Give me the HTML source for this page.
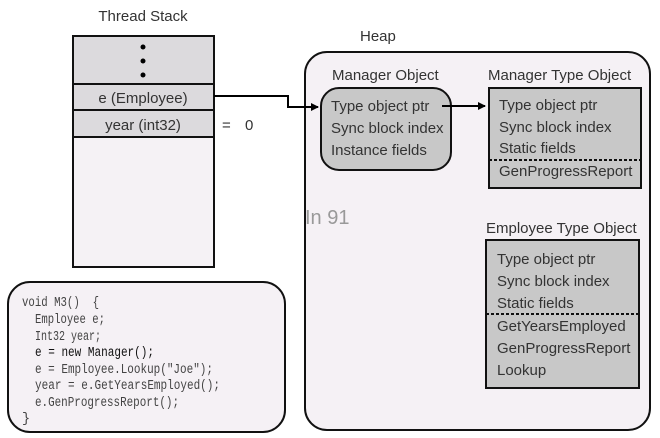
<!DOCTYPE html>
<html><head><meta charset="utf-8"><style>
html,body{margin:0;padding:0;background:#fff;width:660px;height:438px;overflow:hidden}
svg{display:block}
text{font-family:"Liberation Sans",sans-serif;fill:#333;font-size:15px}
.m{font-family:"Liberation Mono",monospace;font-size:13.5px;fill:#444}
</style></head><body>
<svg width="660" height="438" viewBox="0 0 660 438" xmlns="http://www.w3.org/2000/svg">
<defs><marker id="a" markerWidth="8" markerHeight="8" refX="7" refY="4" orient="auto" markerUnits="userSpaceOnUse"><path d="M0,0 L8,4 L0,8z" fill="#000"/></marker></defs>
<text x="143" y="21" text-anchor="middle">Thread Stack</text>
<rect x="73" y="36" width="141" height="231" fill="#f5f2f5" stroke="#111" stroke-width="2"/>
<rect x="74" y="37" width="139" height="47" fill="#dcdadd"/>
<rect x="74" y="85" width="139" height="52" fill="#dcdadd"/>
<line x1="73" y1="84" x2="214" y2="84" stroke="#111" stroke-width="2"/>
<line x1="73" y1="110" x2="214" y2="110" stroke="#111" stroke-width="2"/>
<line x1="73" y1="137" x2="214" y2="137" stroke="#111" stroke-width="2"/>
<circle cx="143" cy="47" r="2.5" fill="#000"/><circle cx="143" cy="61" r="2.5" fill="#000"/><circle cx="143" cy="75" r="2.5" fill="#000"/>
<text x="143" y="103" text-anchor="middle">e (Employee)</text>
<text x="143" y="130" text-anchor="middle">year (int32)</text>
<text x="222" y="130">=</text><text x="245" y="130">0</text>
<text x="360" y="41">Heap</text>
<rect x="305" y="52" width="345" height="378" rx="22" fill="#f5f1f5" stroke="#111" stroke-width="2"/>
<polyline points="214,96 288,96 288,107 318,107" fill="none" stroke="#000" stroke-width="2" marker-end="url(#a)"/>
<text x="332" y="80">Manager Object</text>
<rect x="321" y="88" width="130" height="82" rx="18" fill="#c8c8c8" stroke="#111" stroke-width="2"/>
<text x="331" y="111">Type object ptr</text>
<text x="331" y="133">Sync block index</text>
<text x="331" y="155">Instance fields</text>
<line x1="442" y1="106" x2="485" y2="106" stroke="#000" stroke-width="2" marker-end="url(#a)"/>
<text x="488" y="80">Manager Type Object</text>
<rect x="489" y="88" width="152" height="100" fill="#c8c8c8" stroke="#111" stroke-width="2"/>
<text x="499" y="110">Type object ptr</text>
<text x="499" y="132">Sync block index</text>
<text x="499" y="153">Static fields</text>
<line x1="489" y1="160" x2="641" y2="160" stroke="#111" stroke-width="2" stroke-dasharray="3,2"/>
<text x="499" y="176">GenProgressReport</text>
<text x="305" y="224" style="font-size:20px;fill:#999">In 91</text>
<text x="486" y="233">Employee Type Object</text>
<rect x="486" y="240" width="153" height="148" fill="#c8c8c8" stroke="#111" stroke-width="2"/>
<text x="497" y="264">Type object ptr</text>
<text x="497" y="286">Sync block index</text>
<text x="497" y="308">Static fields</text>
<line x1="486" y1="314" x2="639" y2="314" stroke="#111" stroke-width="2" stroke-dasharray="3,2"/>
<text x="497" y="331">GetYearsEmployed</text>
<text x="497" y="353">GenProgressReport</text>
<text x="497" y="375">Lookup</text>
<rect x="8" y="282" width="277" height="150" rx="22" fill="#f5f1f5" stroke="#111" stroke-width="2"/>
<text class="m" x="22" y="306" xml:space="preserve" textLength="77" lengthAdjust="spacingAndGlyphs">void M3()  {</text>
<text class="m" x="35" y="323" textLength="70" lengthAdjust="spacingAndGlyphs">Employee e;</text>
<text class="m" x="35" y="340" textLength="66" lengthAdjust="spacingAndGlyphs">Int32 year;</text>
<text class="m" x="35" y="356" style="fill:#111" textLength="119" lengthAdjust="spacingAndGlyphs">e = new Manager();</text>
<text class="m" x="35" y="373" textLength="178" lengthAdjust="spacingAndGlyphs">e = Employee.Lookup("Joe");</text>
<text class="m" x="35" y="389" textLength="185" lengthAdjust="spacingAndGlyphs">year = e.GetYearsEmployed();</text>
<text class="m" x="35" y="406" textLength="144" lengthAdjust="spacingAndGlyphs">e.GenProgressReport();</text>
<text class="m" x="22" y="422">}</text>
</svg>
</body></html>
